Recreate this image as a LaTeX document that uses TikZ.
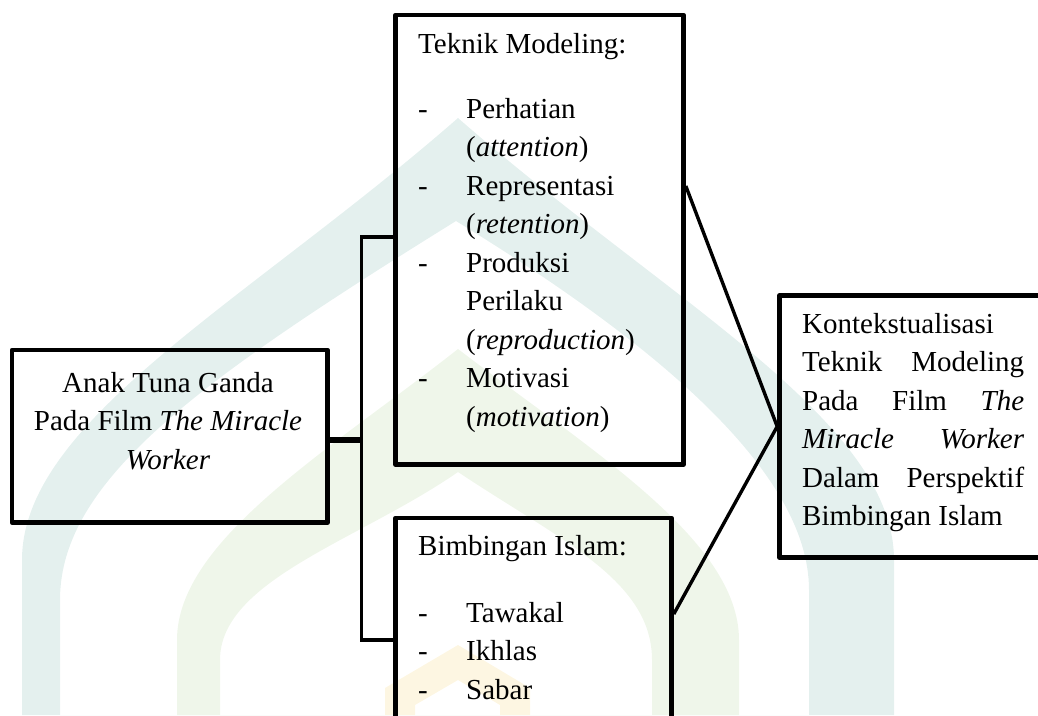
\documentclass[tikz,border=0pt]{standalone}
\usepackage{fontspec}
\setmainfont{Liberation Serif}
\definecolor{wmteal}{RGB}{228,240,238}
\definecolor{wmgreen}{RGB}{239,246,234}
\definecolor{wmyellow}{RGB}{253,246,226}
\begin{document}
\begin{tikzpicture}[x=1pt,y=-1pt,
  box/.style={draw=black,line width=4.6pt,line join=round,inner sep=0pt,rectangle},
  link/.style={draw=black,line width=3.4pt},
  stem/.style={draw=black,line width=5.5pt},
  txt/.style={inner sep=0pt,font=\fontsize{29}{38.5}\selectfont},
  mark/.style={}]
\useasboundingbox (0,0) rectangle (1038,715);
\clip (0,0) rectangle (1038,715);
% faint watermark
\fill[wmteal,even odd rule]
  (22,715) -- (22,560) .. controls (22,420) and (250,300) .. (458,118)
  .. controls (666,300) and (894,420) .. (894,560) -- (894,715) -- cycle
  (60,715) -- (60,600) .. controls (60,480) and (200,380) .. (456,221)
  .. controls (650,340) and (809,470) .. (809,590) -- (809,715) -- cycle;
\fill[wmgreen,even odd rule]
  (177,715) -- (177,640) .. controls (177,540) and (330,450) .. (458,349)
  .. controls (590,450) and (739,540) .. (739,640) -- (739,715) -- cycle
  (220,715) -- (220,660) .. controls (220,580) and (360,540) .. (458,472)
  .. controls (560,540) and (652,580) .. (652,660) -- (652,715) -- cycle;
\fill[wmyellow] (385,715) -- (385,688) -- (458,645) -- (530,688) -- (530,715)
  -- (500,715) -- (500,705) -- (458,680) -- (415,705) -- (415,715) -- cycle;
% boxes
\node[box,minimum width=315.5pt,minimum height=172.5pt] (A) at (169.75,436.25) {};
\node[box,minimum width=288pt,minimum height=449.5pt] (B) at (539.5,239.75) {};
\node[box,minimum width=276pt,minimum height=242pt] (C) at (533.5,639) {};
\node[box,minimum width=265.5pt,minimum height=262pt] (D) at (912.25,426.5) {};
% texts
\node[txt,anchor=base] (tA) at (168,392) {\begin{tabular}[t]{@{}c@{}}Anak Tuna Ganda\\ Pada Film \textit{The Miracle}\\ \textit{Worker}\end{tabular}};
\node[txt,anchor=base west] (tB) at (418,53) {\begin{tabular}[t]{@{}l@{}}Teknik Modeling:\\[26.5pt]
\makebox[48pt][l]{-}Perhatian\\
\hspace*{48pt}(\textit{attention})\\
\makebox[48pt][l]{-}Representasi\\
\hspace*{48pt}(\textit{retention})\\
\makebox[48pt][l]{-}Produksi\\
\hspace*{48pt}Perilaku\\
\hspace*{48pt}(\textit{reproduction})\\
\makebox[48pt][l]{-}Motivasi\\
\hspace*{48pt}(\textit{motivation})\end{tabular}};
\node[txt,anchor=base west] (tC) at (418,555) {\begin{tabular}[t]{@{}l@{}}Bimbingan Islam:\\[28.5pt]
\makebox[48pt][l]{-}Tawakal\\
\makebox[48pt][l]{-}Ikhlas\\
\makebox[48pt][l]{-}Sabar\end{tabular}};
\node[txt,anchor=base west] (tD) at (802,333) {\begin{tabular}[t]{@{}l@{}}Kontekstualisasi\\
\makebox[222pt][s]{Teknik Modeling}\\
\makebox[222pt][s]{Pada Film \textit{The}}\\
\makebox[222pt][s]{\textit{Miracle Worker}}\\
\makebox[222pt][s]{Dalam Perspektif}\\
Bimbingan Islam\end{tabular}};
% connectors
\coordinate (jt) at (361.5,237);
\coordinate (jb) at (361.5,640);
\coordinate (jm) at (361.5,440);
\draw[stem] (A.east|-jm) -- (jm);
\draw[link] (B.west|-jt) -- (jt) -- (jb) -- (C.west|-jb);
\draw[link,line join=miter] ([yshift=53.75pt]B.east) -- (D.west) -- ([yshift=25pt]C.east);
\end{tikzpicture}
\end{document}
